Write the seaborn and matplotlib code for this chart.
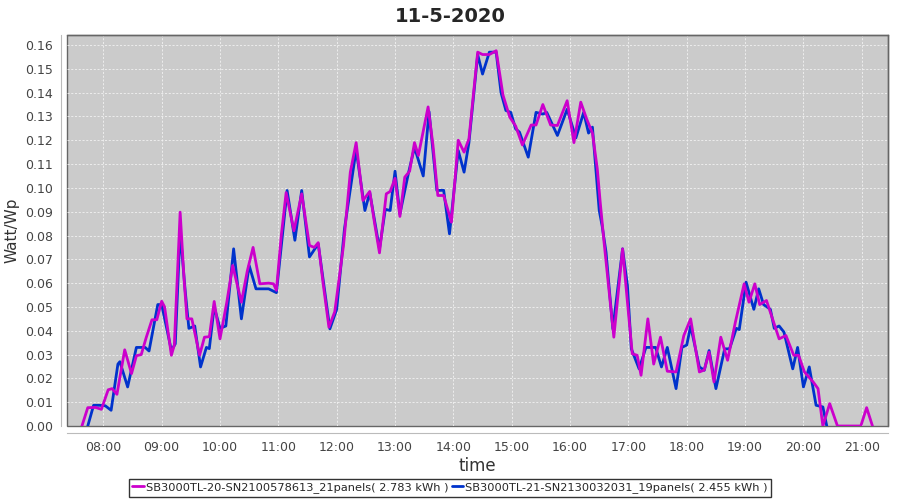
import pandas as pd
import numpy as np
import matplotlib
matplotlib.use("Agg")
import matplotlib.pyplot as plt
import matplotlib.dates as mdates
import seaborn as sns

DAY = "2020-05-11"
TITLE = "11-5-2020"

# series 1 (magenta): SN2100578613, 21 panels
name_a = "SB3000TL-20-SN2100578613_21panels( 2.783 kWh )"
times_a = ["07:38", "07:44", "07:52", "07:58", "08:05", "08:09", "08:14", "08:22", "08:29", "08:34",
           "08:39", "08:44", "08:50", "08:55", "09:00", "09:03", "09:10", "09:13", "09:19", "09:23",
           "09:26", "09:31", "09:39", "09:44", "09:49", "09:54", "10:00", "10:07", "10:13", "10:22",
           "10:28", "10:34", "10:41", "10:50", "10:55", "10:58", "11:03", "11:08", "11:16", "11:24",
           "11:32", "11:37", "11:41", "11:46", "11:52", "11:58", "12:07", "12:14", "12:20", "12:27",
           "12:34", "12:39", "12:44", "12:51", "12:55", "13:00", "13:05", "13:10", "13:15", "13:20",
           "13:24", "13:34", "13:39", "13:44", "13:50", "13:58", "14:05", "14:11", "14:16", "14:25",
           "14:30", "14:37", "14:44", "14:51", "14:58", "15:04", "15:11", "15:20", "15:25", "15:32",
           "15:40", "15:47", "15:57", "16:04", "16:11", "16:17", "16:23", "16:28", "16:31", "16:35",
           "16:45", "16:54", "16:59", "17:04", "17:09", "17:13", "17:20", "17:26", "17:33", "17:40",
           "17:49", "17:57", "18:04", "18:13", "18:18", "18:23", "18:28", "18:35", "18:42", "18:50",
           "18:59", "19:04", "19:10", "19:15", "19:22", "19:35", "19:42", "19:50", "19:55", "20:01",
           "20:10", "20:15", "20:20", "20:27", "20:35", "20:59", "21:05", "21:11"]
watt_a = [0.0, 0.0077, 0.0078, 0.0070, 0.0152, 0.0157, 0.0133, 0.0320, 0.0220, 0.0295,
          0.0300, 0.0370, 0.0446, 0.0446, 0.0524, 0.0500, 0.0297, 0.0340, 0.0898, 0.0620,
          0.0450, 0.0450, 0.0297, 0.0373, 0.0375, 0.0523, 0.0366, 0.0520, 0.0674, 0.0520,
          0.0650, 0.0750, 0.0597, 0.0600, 0.0597, 0.0570, 0.0800, 0.0980, 0.0820, 0.0975,
          0.0758, 0.0750, 0.0770, 0.0600, 0.0415, 0.0480, 0.0758, 0.1066, 0.1190, 0.0947,
          0.0985, 0.0850, 0.0727, 0.0975, 0.0985, 0.1040, 0.0880, 0.1045, 0.1070, 0.1190,
          0.1136, 0.1340, 0.1180, 0.0968, 0.0968, 0.0856, 0.1200, 0.1150, 0.1206, 0.1570,
          0.1560, 0.1560, 0.1576, 0.1390, 0.1297, 0.1260, 0.1180, 0.1264, 0.1264, 0.1350,
          0.1264, 0.1262, 0.1366, 0.1190, 0.1360, 0.1290, 0.1230, 0.1080, 0.0940, 0.0770,
          0.0373, 0.0744, 0.0520, 0.0303, 0.0297, 0.0213, 0.0450, 0.0260, 0.0373, 0.0230,
          0.0227, 0.0380, 0.0450, 0.0227, 0.0235, 0.0310, 0.0185, 0.0373, 0.0276, 0.0436,
          0.0597, 0.0520, 0.0597, 0.0510, 0.0527, 0.0366, 0.0380, 0.0297, 0.0297, 0.0227,
          0.0185, 0.0157, 0.0, 0.0094, 0.0, 0.0, 0.0077, 0.0]

# series 2 (blue): SN2130032031, 19 panels
name_b = "SB3000TL-21-SN2130032031_19panels( 2.455 kWh )"
times_b = ["07:44", "07:50", "07:56", "08:02", "08:08", "08:15", "08:17", "08:25", "08:34", "08:43",
           "08:47", "08:56", "09:00", "09:10", "09:14", "09:19", "09:24", "09:28", "09:34", "09:40",
           "09:46", "09:49", "09:54", "10:00", "10:06", "10:14", "10:22", "10:30", "10:37", "10:50",
           "10:58", "11:09", "11:17", "11:24", "11:32", "11:41", "11:53", "12:00", "12:08", "12:20",
           "12:29", "12:34", "12:44", "12:50", "12:55", "13:00", "13:05", "13:14", "13:20", "13:29",
           "13:35", "13:43", "13:50", "13:56", "14:05", "14:11", "14:16", "14:25", "14:30", "14:37",
           "14:44", "14:49", "14:54", "14:59", "15:04", "15:08", "15:17", "15:25", "15:32", "15:36",
           "15:47", "15:57", "16:06", "16:14", "16:19", "16:23", "16:30", "16:33", "16:37", "16:40",
           "16:44", "16:54", "16:59", "17:03", "17:11", "17:18", "17:28", "17:34", "17:40", "17:49",
           "17:55", "18:00", "18:04", "18:13", "18:18", "18:23", "18:30", "18:39", "18:44", "18:51",
           "18:54", "19:01", "19:09", "19:14", "19:19", "19:26", "19:30", "19:35", "19:40", "19:49",
           "19:54", "20:00", "20:06", "20:13", "20:20", "20:24"]
watt_b = [0.0, 0.0087, 0.0087, 0.0085, 0.0066, 0.0260, 0.0270, 0.0164, 0.0330, 0.0330,
          0.0315, 0.0510, 0.0510, 0.0317, 0.0345, 0.0820, 0.0576, 0.0410, 0.0420, 0.0248,
          0.0330, 0.0325, 0.0500, 0.0410, 0.0420, 0.0744, 0.0450, 0.0674, 0.0576, 0.0576,
          0.0560, 0.0989, 0.0780, 0.0989, 0.0710, 0.0765, 0.0408, 0.0490, 0.0828, 0.1160,
          0.0905, 0.0980, 0.0744, 0.0910, 0.0905, 0.1070, 0.0890, 0.1066, 0.1170, 0.1050,
          0.1320, 0.0989, 0.0990, 0.0807, 0.1157, 0.1066, 0.1190, 0.1560, 0.1478, 0.1570,
          0.1570, 0.1400, 0.1325, 0.1317, 0.1248, 0.1234, 0.1129, 0.1317, 0.1310, 0.1317,
          0.1220, 0.1330, 0.1210, 0.1317, 0.1230, 0.1255, 0.0905, 0.0840, 0.0730, 0.0590,
          0.0408, 0.0744, 0.0590, 0.0324, 0.0240, 0.0330, 0.0330, 0.0248, 0.0330, 0.0157,
          0.0330, 0.0340, 0.0420, 0.0248, 0.0234, 0.0317, 0.0157, 0.0324, 0.0324, 0.0410,
          0.0405, 0.0604, 0.0490, 0.0576, 0.0510, 0.0490, 0.0410, 0.0420, 0.0394, 0.0240,
          0.0330, 0.0164, 0.0248, 0.0087, 0.0080, 0.0]

y_ticks = [0.00, 0.01, 0.02, 0.03, 0.04, 0.05, 0.06, 0.07, 0.08, 0.09,
           0.10, 0.11, 0.12, 0.13, 0.14, 0.15, 0.16]
x_ticks = ["08:00", "09:00", "10:00", "11:00", "12:00", "13:00", "14:00",
           "15:00", "16:00", "17:00", "18:00", "19:00", "20:00", "21:00"]

colors = {name_a: "#cc00cc", name_b: "#0033cc"}


def to_dt(times):
    return pd.to_datetime([f"{DAY} {t}" for t in times])


df = pd.concat([
    pd.DataFrame({"time": to_dt(times_b), "watt": watt_b, "series": name_b}),
    pd.DataFrame({"time": to_dt(times_a), "watt": watt_a, "series": name_a}),
])

sns.set_style("white")
plt.rcParams["font.family"] = ["DejaVu Sans"]
plt.rcParams["lines.solid_joinstyle"] = "round"
plt.rcParams["lines.solid_capstyle"] = "round"

fig = plt.figure(figsize=(9, 5), dpi=100)
ax = fig.add_axes([0.0744, 0.148, 0.9123, 0.782])
ax.set_facecolor("#cbcbcb")

# blue first so magenta sits on top, like the original
sns.lineplot(data=df, x="time", y="watt", hue="series", hue_order=[name_b, name_a],
             palette=colors, sort=False, estimator=None, linewidth=2.0, ax=ax, legend=False)

ax.set_xlim(pd.Timestamp(f"{DAY} 07:22:36"), pd.Timestamp(f"{DAY} 21:27:00"))
ax.set_ylim(0, 0.1642)
ax.set_xticks(to_dt(x_ticks))
ax.xaxis.set_major_formatter(mdates.DateFormatter("%H:%M"))
ax.set_yticks(y_ticks)
ax.set_yticklabels([f"{v:.2f}" for v in y_ticks])

ax.grid(True, color="#f2f2f2", linestyle=(0, (2.5, 2)), linewidth=0.6)
ax.set_axisbelow(True)

# plot border plus detached axis lines
for side in ["top", "right"]:
    ax.spines[side].set_color("#666666")
    ax.spines[side].set_linewidth(1.0)
ax.spines["left"].set_position(("outward", 4))
ax.spines["bottom"].set_position(("outward", 5))
ax.spines["left"].set_color("#bbbbbb")
ax.spines["bottom"].set_color("#bbbbbb")
ax.patch.set_edgecolor("#666666")
ax.patch.set_linewidth(1.0)

ax.tick_params(axis="both", which="major", length=3, width=0.8, color="#aaaaaa",
               labelsize=9, labelcolor="#444444", pad=3)

ax.set_xlabel("time", fontsize=12, color="#333333", labelpad=2)
ax.set_ylabel("Watt/Wp", fontsize=11, color="#333333", labelpad=4)
fig.suptitle(TITLE, fontsize=14, fontweight="bold", y=0.985)

handles = [plt.Line2D([], [], color=colors[name_a], linewidth=2),
           plt.Line2D([], [], color=colors[name_b], linewidth=2)]
leg = fig.legend(handles, [name_a, name_b], loc="lower center", bbox_to_anchor=(0.5, 0.0),
                 ncol=2, fontsize=8.2, frameon=True, fancybox=False, handlelength=1.0,
                 handletextpad=0.2, columnspacing=0.3, borderpad=0.3, borderaxespad=0.3)
leg.get_frame().set_edgecolor("black")
leg.get_frame().set_linewidth(1.0)

fig.savefig("out.png", dpi=100)
